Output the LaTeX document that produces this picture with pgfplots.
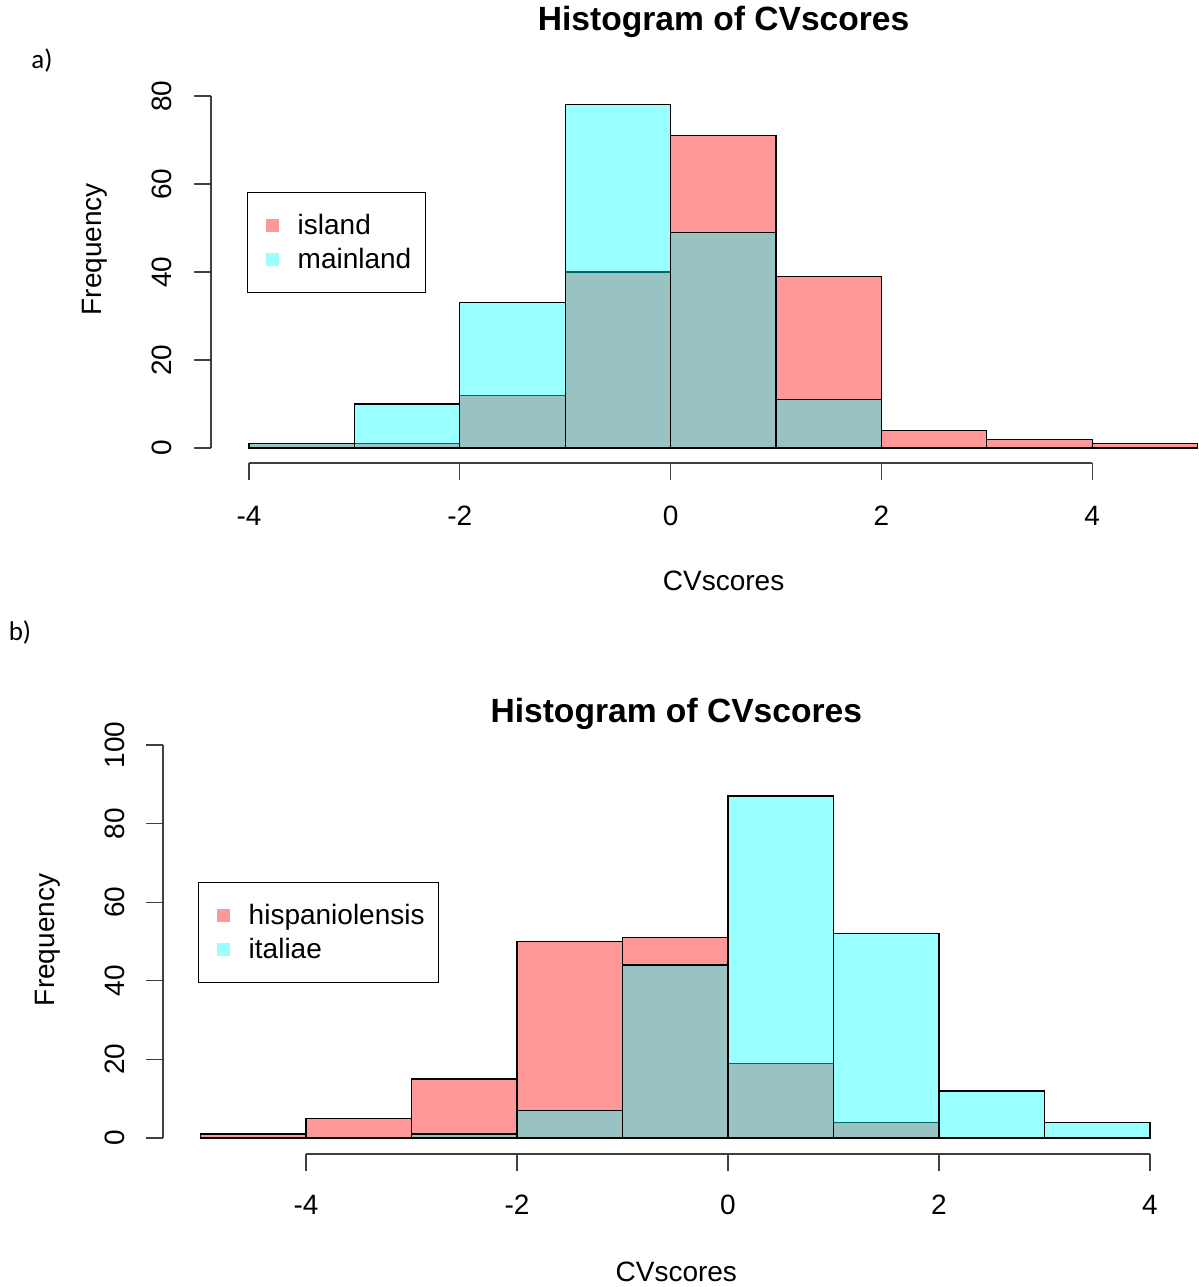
\documentclass[border=0pt]{standalone}
\usepackage{pgfplots}
\pgfplotsset{compat=1.18}
\usepackage{fontspec}
\setmainfont{Liberation Sans}
\newfontfamily\carlito{Carlito}

\definecolor{histred}{rgb}{1,0,0}
\definecolor{histcyan}{rgb}{0,1,1}
\definecolor{axisgray}{gray}{0.25}

\tikzset{rtext/.style={font=\fontsize{14}{16}\selectfont, inner sep=0pt}}

\pgfplotsset{
  rhist/.style={ybar interval, draw=black, line width=0.65pt, fill opacity=0.4, forget plot},
  sqlegend/.style={legend image code/.code={\path (0pt,0pt);\fill[##1,draw=none] (2pt,-3.25pt) rectangle (8.5pt,3.25pt);}},
  rpanel/.style={
    scale only axis, axis lines=none, clip=false, enlargelimits=false,
    anchor=south west,
    legend cell align=left,
    legend style={draw=black, line width=0.6pt, fill=white, anchor=north west,
      inner xsep=7pt, inner ysep=8pt, row sep=0pt,
      font=\fontsize{14}{16}\selectfont,
      nodes={inner sep=0pt, minimum height=17pt},
      /tikz/every odd column/.style={column sep=9.25pt}},
  },
}

\begin{document}
\begin{tikzpicture}
\path[use as bounding box] (0,0) rectangle (599.5pt,-643.5pt);

% ---------------- panel a: island vs mainland ----------------
\node[font=\carlito\fontsize{13.5}{16}\selectfont] at (21pt,-30pt) {a)};
\begin{axis}[rpanel, at={(124.5pt,-224pt)}, x=52.7pt, y=2.2pt,
  xmin=-4, xmax=5, ymin=0, ymax=80,
  legend style={at={(-0.0021,0.7273)}}]
\addplot[rhist, fill=histred] coordinates
  {(-4,1) (-3,1) (-2,12) (-1,40) (0,71) (1,39) (2,4) (3,2) (4,1) (5,1)};
\addplot[rhist, fill=histcyan] coordinates
  {(-4,1) (-3,10) (-2,33) (-1,78) (0,49) (1,11) (2,0)};
\addlegendimage{sqlegend, fill=histred, fill opacity=0.4}
\addlegendentry{island}
\addlegendimage{sqlegend, fill=histcyan, fill opacity=0.4}
\addlegendentry{mainland}
% x axis
\draw[axisgray, line width=0.6pt] ([yshift=-7.5pt]axis cs:-4,0) -- ([yshift=-7.5pt]axis cs:4,0);
\pgfplotsinvokeforeach{-4,-2,0,2,4}{
  \draw[axisgray, line width=0.6pt] ([yshift=-7.5pt]axis cs:#1,0) -- ([yshift=-16pt]axis cs:#1,0);
  \node[rtext] at ([yshift=-34pt]axis cs:#1,0) {#1};
}
% y axis
\draw[axisgray, line width=0.6pt] ([xshift=-19pt]axis cs:-4,0) -- ([xshift=-19pt]axis cs:-4,80);
\pgfplotsinvokeforeach{0,20,40,60,80}{
  \draw[axisgray, line width=0.6pt] ([xshift=-19pt]axis cs:-4,#1) -- ([xshift=-27.5pt]axis cs:-4,#1);
  \node[rtext, rotate=90] at ([xshift=-43.5pt]axis cs:-4,#1) {#1};
}
\node[rtext] at ([yshift=-66.5pt]axis cs:0.503,0) {CVscores};
\node[rtext, rotate=90] at ([xshift=-77pt]axis cs:-4,45.2) {Frequency};
\node[font=\bfseries\fontsize{16.8}{20}\selectfont, inner sep=0pt] at ([yshift=213pt]axis cs:0.503,0) {Histogram of CVscores};
\end{axis}

% ---------------- panel b: hispaniolensis vs italiae ----------------
\node[font=\carlito\fontsize{13.5}{16}\selectfont] at (10pt,-316pt) {b)};
\begin{axis}[rpanel, at={(100.25pt,-569pt)}, x=52.75pt, y=1.965pt,
  xmin=-5, xmax=4, ymin=0, ymax=100,
  legend style={at={(-0.0026,0.6514)}}]
\addplot[rhist, fill=histred] coordinates
  {(-5,1) (-4,5) (-3,15) (-2,50) (-1,51) (0,19) (1,4) (2,0)};
\addplot[rhist, fill=histcyan] coordinates
  {(-3,1) (-2,7) (-1,44) (0,87) (1,52) (2,12) (3,4) (4,0)};
\addlegendimage{sqlegend, fill=histred, fill opacity=0.4}
\addlegendentry{hispaniolensis}
\addlegendimage{sqlegend, fill=histcyan, fill opacity=0.4}
\addlegendentry{italiae}
% x axis
\draw[axisgray, line width=0.6pt] ([yshift=-8pt]axis cs:-4,0) -- ([yshift=-8pt]axis cs:4,0);
\pgfplotsinvokeforeach{-4,-2,0,2,4}{
  \draw[axisgray, line width=0.6pt] ([yshift=-8pt]axis cs:#1,0) -- ([yshift=-16.5pt]axis cs:#1,0);
  \node[rtext] at ([yshift=-33.5pt]axis cs:#1,0) {#1};
}
% y axis
\draw[axisgray, line width=0.6pt] ([xshift=-18.75pt]axis cs:-5,0) -- ([xshift=-18.75pt]axis cs:-5,100);
\pgfplotsinvokeforeach{0,20,40,60,80,100}{
  \draw[axisgray, line width=0.6pt] ([xshift=-18.75pt]axis cs:-5,#1) -- ([xshift=-27.25pt]axis cs:-5,#1);
  \node[rtext, rotate=90] at ([xshift=-42.75pt]axis cs:-5,#1) {#1};
}
\node[rtext] at ([yshift=-67pt]axis cs:-0.49,0) {CVscores};
\node[rtext, rotate=90] at ([xshift=-76.25pt]axis cs:-5,50.4) {Frequency};
\node[font=\bfseries\fontsize{16.8}{20}\selectfont, inner sep=0pt] at ([yshift=212pt]axis cs:-0.49,0) {Histogram of CVscores};
\end{axis}
\end{tikzpicture}
\end{document}
